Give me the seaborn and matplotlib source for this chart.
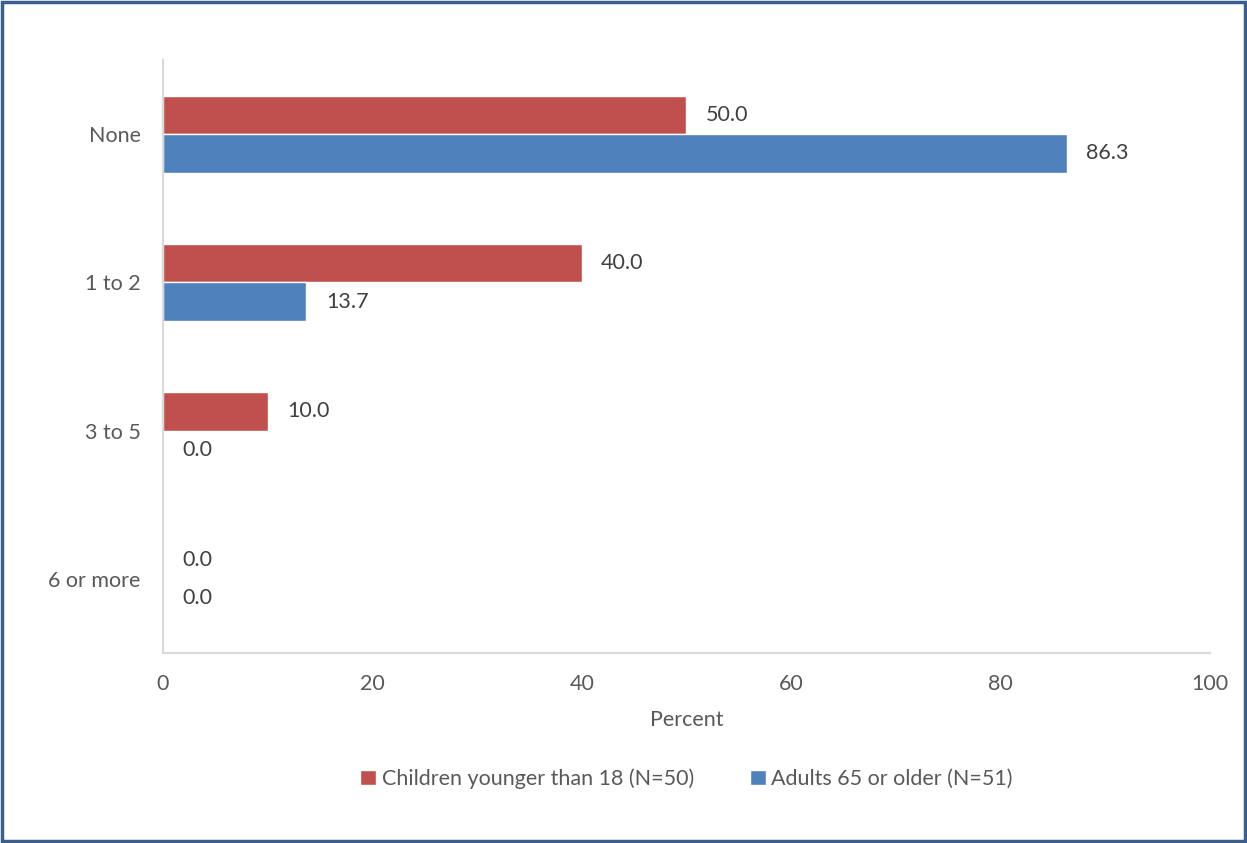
import matplotlib
matplotlib.use("Agg")
import matplotlib.pyplot as plt
import seaborn as sns
import pandas as pd
from matplotlib.patches import Rectangle

categories = ["None", "1 to 2", "3 to 5", "6 or more"]
series_names = ["Children younger than 18 (N=50)", "Adults 65 or older (N=51)"]
children = [50.0, 40.0, 10.0, 0.0]
adults = [86.3, 13.7, 0.0, 0.0]
x_ticks = [0, 20, 40, 60, 80, 100]
colors = ["#C0504D", "#4F81BD"]

rows = []
for c, v in zip(categories, children):
    rows.append({"cat": c, "series": series_names[0], "val": v})
for c, v in zip(categories, adults):
    rows.append({"cat": c, "series": series_names[1], "val": v})
df = pd.DataFrame(rows)

sns.set_style("white")
plt.rcParams["font.family"] = ["Lato", "DejaVu Sans"]
text_color = "#595959"
fs = 15.5

fig = plt.figure(figsize=(12.47, 8.43), dpi=100)
ax = fig.add_axes([0.1307, 0.2254, 0.8396, 0.7034])

sns.barplot(data=df, y="cat", x="val", hue="series", orient="h",
            order=categories, hue_order=series_names, palette=colors,
            width=0.52, saturation=1, ax=ax, legend=True)

ax.set_xlim(0, 100)
ax.set_ylim(3.5, -0.5)
ax.set_xticks(x_ticks)
ax.set_xticklabels([str(t) for t in x_ticks], fontsize=fs, color=text_color)
ax.tick_params(axis="x", direction="inout", length=14, width=1.5, color="#D9D9D9", pad=8)
ax.tick_params(axis="y", length=0, pad=16, labelsize=fs, labelcolor=text_color)
ax.set_ylabel("")
ax.set_xlabel("Percent", fontsize=fs, color=text_color, labelpad=12)
for s in ["top", "right"]:
    ax.spines[s].set_visible(False)
for s in ["left", "bottom"]:
    ax.spines[s].set_color("#D9D9D9")
    ax.spines[s].set_linewidth(1.5)

for cont in ax.containers:
    ax.bar_label(cont, fmt="%.1f", padding=14, fontsize=fs, color="#404040")

handles, labels = ax.get_legend_handles_labels()
ax.legend(handles, labels, loc="upper center", bbox_to_anchor=(0.5, -0.162),
          ncol=2, frameon=False, fontsize=fs, handlelength=0.75, handleheight=0.75,
          handletextpad=0.25, columnspacing=2.6, labelcolor=text_color)

fig.patches.append(Rectangle((0.002, 0.002), 0.996, 0.996, transform=fig.transFigure,
                             fill=False, edgecolor="#3A5F8F", linewidth=2.5))

fig.savefig("out.png", dpi=100)
